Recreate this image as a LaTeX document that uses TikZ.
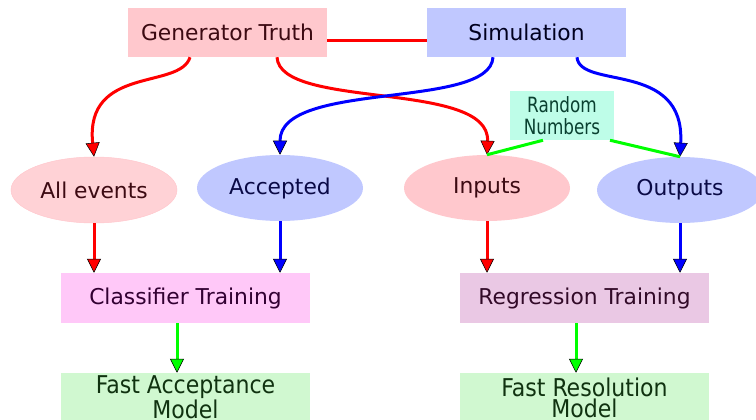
\documentclass[tikz,border=0pt]{standalone}
\usepackage{fontspec}
\setmainfont{DejaVu Sans}
\newfontfamily\condfont{DejaVu Sans Condensed}
\newfontfamily\narrowfont[FakeStretch=0.89]{DejaVu Sans Condensed}
\usetikzlibrary{arrows.meta,shapes.geometric}
\definecolor{genpink}{HTML}{FFC8CD}
\definecolor{evpink}{HTML}{FFD2D6}
\definecolor{simblue}{HTML}{C0C8FF}
\definecolor{rndgreen}{HTML}{BEFDE8}
\definecolor{clsmag}{HTML}{FFC8F8}
\definecolor{regmauve}{HTML}{EAC8E4}
\definecolor{fastgreen}{HTML}{D0F8D0}
\definecolor{lime}{HTML}{00FF00}
\begin{document}
\begin{tikzpicture}
  [x=1pt,y=-1pt,line width=3pt,
   every node/.style={font=\fontsize{21.8}{25}\selectfont,inner sep=0pt,line width=0.5pt},
   arr/.style={draw=#1,-{Triangle[width=14pt,length=14pt,fill=#1,color=black,line width=0.5pt]}}]
  \tikzstyle{box} = [rectangle,minimum width=199pt,minimum height=49pt]
  \tikzstyle{oval} = [ellipse,minimum width=166pt,minimum height=66pt]
  \tikzstyle{rndtext} = [font=\narrowfont\fontsize{21}{22.6}\selectfont,align=center]
  \tikzstyle{fasttext} = [font=\condfont\fontsize{24.5}{21}\selectfont,align=center]
  \useasboundingbox (0,0) rectangle (756,420);
  \node[box,fill=genpink,text={rgb,255:red,60;green,10;blue,18}] (gen) at (227.5,32.5) {Generator Truth};
  \node[box,fill=simblue,text={rgb,255:red,0;green,0;blue,30}] (sim) at (526.5,32.5) {Simulation};
  \node[box,rndtext,fill=rndgreen,minimum width=104pt,text={rgb,255:red,10;green,64;blue,48}] (rnd) at (562,115.5) {Random\\Numbers};
  \node[oval,fill=evpink,draw=genpink,text={rgb,255:red,60;green,10;blue,18}] (ae) at (94,190) {All events};
  \node[oval,fill=simblue,text={rgb,255:red,10;green,10;blue,70}] (acc) at (280,188) {Accepted};
  \node[oval,fill=genpink,text={rgb,255:red,60;green,10;blue,18}] (inp) at (487,188) {Inputs};
  \node[oval,fill=simblue,text={rgb,255:red,10;green,10;blue,70}] (out) at (680,190) {Outputs};
  \node[box,fill=clsmag,minimum width=249pt,minimum height=50pt,text={rgb,255:red,50;green,0;blue,50}] (cls) at (185.5,298) {Classifier Training};
  \node[box,fill=regmauve,minimum width=249pt,minimum height=50pt,text={rgb,255:red,50;green,10;blue,40}] (reg) at (584.5,298) {Regression Training};
  \node[box,fasttext,fill=fastgreen,minimum width=249pt,text={rgb,255:red,16;green,50;blue,16}] (fam) at (185.5,397.5) {Fast Acceptance\\Model};
  \node[box,fasttext,fill=fastgreen,minimum width=249pt,text={rgb,255:red,16;green,50;blue,16}] (frm) at (584.5,397.5) {Fast Resolution\\Model};
  % truth and simulation feeds
  \draw[red] ([yshift=-8.5pt]gen.east) -- ([yshift=-8.5pt]sim.west);
  \draw[arr=red] ([xshift=-37.5pt]gen.south) .. controls (180,90) and (85,65) .. (ae.north);
  \draw[arr=red] ([xshift=49.5pt]gen.south) .. controls (280,110) and (490,80) .. (inp.north);
  \draw[arr=blue] ([xshift=-33.5pt]sim.south) .. controls (490,110) and (280,80) .. (acc.north);
  \draw[arr=blue] ([xshift=50.5pt]sim.south) .. controls (580,90) and (685,60) .. (out.north);
  \draw[lime] ([xshift=-19pt]rnd.south) -- (inp.north);
  \draw[lime] ([xshift=48pt]rnd.south) -- (out.north);
  % training inputs
  \foreach \source /\dest /\col in {ae/cls/red,acc/cls/blue,inp/reg/red,out/reg/blue}
    \draw[arr=\col] (\source.south) -- (\source.south |- \dest.north);
  \foreach \source /\dest in {cls/fam,reg/frm}
    \draw[arr=lime] ([xshift=-8.5pt]\source.south) -- ([xshift=-8.5pt]\dest.north);
\end{tikzpicture}
\end{document}
